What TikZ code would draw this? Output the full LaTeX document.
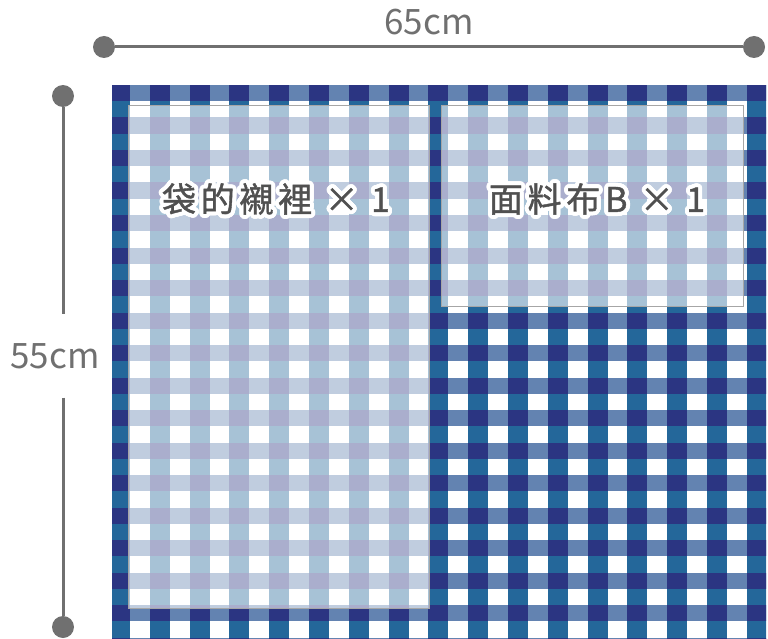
\documentclass[tikz,border=0pt]{standalone}
\usepackage{fontspec}
\newfontfamily\cjk[LetterSpace=14,FakeBold=1.2]{Noto Sans CJK TC}
\newfontfamily\dimfont{Noto Sans CJK TC}
\usepackage{contour}
\contourlength{4pt}
\contournumber{24}
\usetikzlibrary{positioning}
\definecolor{weftblue}{HTML}{6383B1}
\definecolor{warpblue}{HTML}{24679A}
\definecolor{crossnavy}{HTML}{2B3582}
\definecolor{dimgray}{HTML}{707070}
\definecolor{inkgray}{HTML}{505050}
\tikzset{
  panel/.style={
    % The shape:
    shape=rectangle,anchor=north west,inner sep=0pt,
    % The filling:
    fill=white,fill opacity=0.6,
    % The border:
    draw=gray!70,draw opacity=1,line width=1pt
  }}
\tikzset{
	tag/.style={
		font=\cjk\fontsize{34}{40}\selectfont},
	dimdot/.style={
		circle,fill=dimgray,minimum size=22pt,inner sep=0pt},
	dimline/.style={
		draw=dimgray,line width=3pt},
	dimtext/.style={
		text=dimgray,font=\dimfont\fontsize{35}{40}\selectfont}}

\begin{document}
\begin{tikzpicture}[x=1pt,y=-1pt]
	\useasboundingbox (0,0) rectangle (768,639);
	% The cloth
	\fill[white] (112,85) rectangle (766,639);
	\begin{scope}
		\clip (112,85) rectangle (766,639);
		\foreach \r in {0,...,17}
			\fill[weftblue] (112,85+32.5*\r) rectangle (766,101.25+32.5*\r);
		\foreach \c in {0,...,16}
			\fill[warpblue] (110+39.8*\c,85) rectangle (129.9+39.8*\c,639);
		\foreach \c in {0,...,16}
			\foreach \r in {0,...,17}
				\fill[crossnavy] (110+39.8*\c,85+32.5*\r) rectangle +(19.9,16.25);
	\end{scope}
	% The two pieces
	\draw[gray!70,line width=1pt,fill=white,fill opacity=0.6] (128,106) rectangle (429,608);
	\draw[gray!70,line width=1pt,fill=white,fill opacity=0.6] (441,106) rectangle (743,306);
	\node[tag] (liningtag) at (276,201) {\color{inkgray}\contour{white}{袋的襯裡 × 1}};
	\node[tag] (fabricBtag) at (597,201) {\color{inkgray}\contour{white}{面料布B × 1}};
	% Width
	\node[dimdot] (wleft) at (104,47) {};
	\node[dimdot] (wright) at (754,47) {};
	\draw[dimline] (wleft) -- (wright);
	\node[dimtext] (width) at (429,22) {65cm};
	% Height
	\node[dimdot] (htop) at (63,96) {};
	\node[dimdot] (hbottom) at (63,627) {};
	\node[dimtext,minimum height=83pt,inner sep=0pt] (height) at (55,356) {55cm};
	\draw[dimline] (htop) -- (height.north -| htop);
	\draw[dimline] (height.south -| hbottom) -- (hbottom);
\end{tikzpicture}
\end{document}
